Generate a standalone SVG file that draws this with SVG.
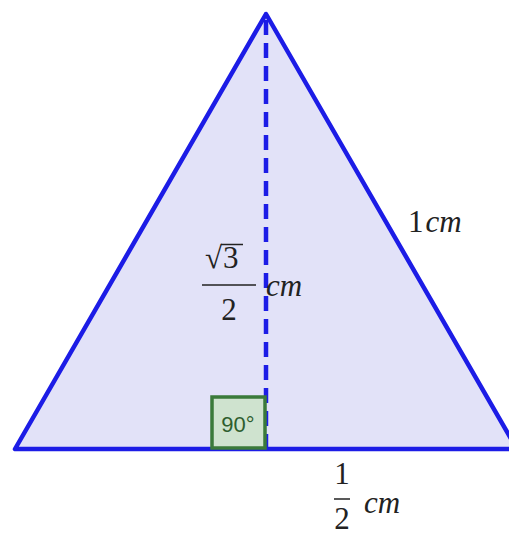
<svg xmlns="http://www.w3.org/2000/svg" width="509" height="535" viewBox="0 0 509 535">
<style>
.m{font-family:"Liberation Serif","DejaVu Serif",serif;font-size:31px;fill:#222}
.i{font-style:italic}
</style>
<rect width="509" height="535" fill="#ffffff"/>
<g id="triangle">
<polygon points="266,14 15,449 517,449" fill="#e2e2f8" stroke="#1c1ce6" stroke-width="4.5" stroke-linejoin="round"/>
</g>
<g id="connectors">
<line x1="266" y1="20" x2="266" y2="447" stroke="#1c1ce6" stroke-width="4.5" stroke-dasharray="15,8"/>
</g>
<g id="right-angle">
<rect x="212" y="397" width="53" height="51" fill="#cfe3cf" stroke="#3a7a3a" stroke-width="3.5"/>
<text x="238" y="432" font-family="Liberation Sans,Arial,sans-serif" font-size="22" fill="#2e5e2e" text-anchor="middle">90°</text>
</g>
<g id="label-hyp">
<text class="m" x="408" y="232">1<tspan class="i" dx="2">cm</tspan></text>
</g>
<g id="label-height">
<text class="m" x="205" y="268">√<tspan dx="1">3</tspan></text>
<line x1="221" y1="244.5" x2="243" y2="244.5" stroke="#222" stroke-width="1.5"/>
<line x1="202" y1="285" x2="256" y2="285" stroke="#222" stroke-width="1.5"/>
<text class="m" x="229" y="320" text-anchor="middle">2</text>
<text class="m i" x="266" y="296">cm</text>
</g>
<g id="label-base">
<text class="m" x="342" y="484" text-anchor="middle">1</text>
<line x1="334" y1="499" x2="350" y2="499" stroke="#222" stroke-width="1.5"/>
<text class="m" x="342" y="529" text-anchor="middle">2</text>
<text class="m i" x="364" y="513">cm</text>
</g>
</svg>
